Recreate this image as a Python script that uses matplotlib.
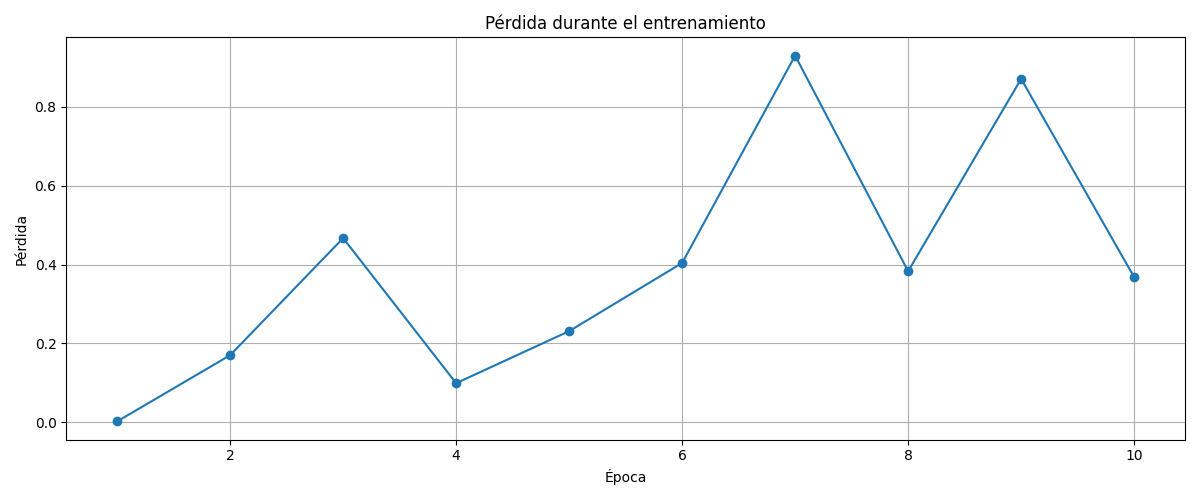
import matplotlib
matplotlib.use("Agg")
import matplotlib.pyplot as plt

epochs = [1, 2, 3, 4, 5, 6, 7, 8, 9, 10]
loss = [0.002, 0.170, 0.467, 0.099, 0.231, 0.404, 0.930, 0.383, 0.871, 0.368]

fig, ax = plt.subplots(figsize=(12, 5), dpi=100)
ax.plot(epochs, loss, marker='o')
ax.set_title('Pérdida durante el entrenamiento')
ax.set_xlabel('Época')
ax.set_ylabel('Pérdida')
ax.grid(True)
fig.tight_layout()
fig.savefig('out.png')
